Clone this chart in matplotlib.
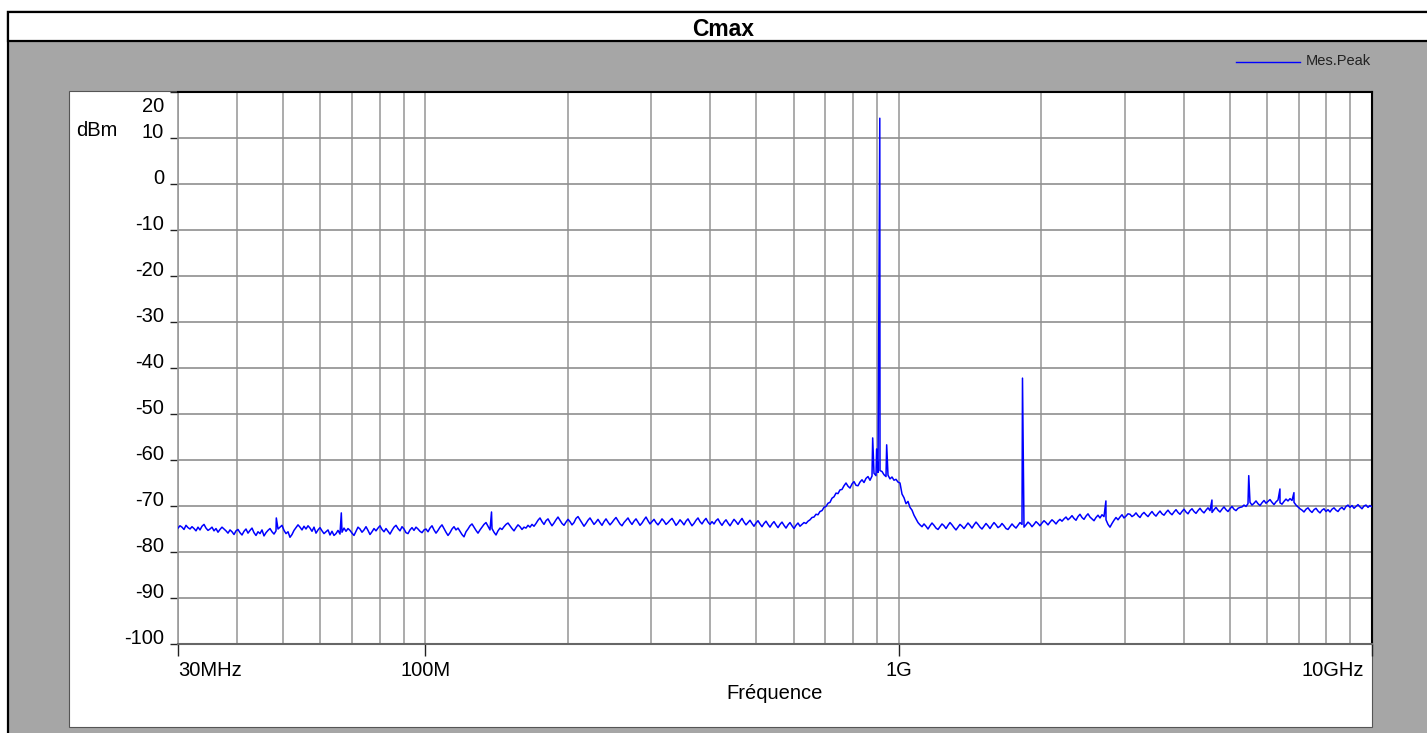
import numpy as np
import matplotlib
matplotlib.use('Agg')
import matplotlib.pyplot as plt
import matplotlib.transforms as mtransforms
from matplotlib.ticker import FixedLocator, NullFormatter
from matplotlib.patches import Rectangle

plt.rcParams['font.family'] = ['Liberation Sans', 'DejaVu Sans']

# --- data ---
title = 'Cmax'
series_name = 'Mes.Peak'
x_title = 'Fréquence'
y_unit = 'dBm'

y_ticks = [-100, -90, -80, -70, -60, -50, -40, -30, -20, -10, 0, 10, 20]
y_labels = ['-100', '-90', '-80', '-70', '-60', '-50', '-40', '-30', '-20', '-10', '0', '10', '20']
x_ticks = [30, 100, 1000, 10000]          # MHz
x_labels = ['30MHz', '100M', '1G', '10GHz']

# sweep levels in dBm, 30 MHz -> 10 GHz, log-spaced sweep points
band_30_100 = [
    -74.8, -74.3, -74.6, -75.1, -74.2, -74.7, -75.0, -74.5, -74.9, -75.4,
    -74.6, -75.2, -74.4, -74.0, -74.8, -75.3, -75.0, -74.6, -75.4, -74.9,
    -75.7, -75.1, -74.6, -75.0, -75.4, -75.9, -75.2, -75.6, -76.2, -75.4,
    -75.1, -75.8, -76.3, -75.5, -75.0, -75.9, -75.3, -74.8, -75.8, -76.4,
    -75.6, -76.0, -75.2, -76.5, -75.8, -75.3, -74.9, -75.6, -76.1, -75.4,
    -75.0, -74.6, -74.2, -75.3, -76.0, -75.6, -76.8, -76.2, -75.3, -74.7,
    -74.1, -74.6, -75.2, -74.4, -75.0, -74.3, -74.8, -75.5, -74.6, -75.9,
    -75.2, -74.7, -75.4, -76.0, -75.6, -75.2, -76.3, -75.5, -76.4, -76.0,
    -75.3, -76.1, -75.7, -74.8, -75.5, -74.9, -75.3, -75.9, -76.4, -75.5,
    -74.6, -75.0, -75.7, -75.2, -74.5, -75.3, -76.2, -75.6, -74.9, -75.4,
    -74.8, -74.3, -75.1, -75.6, -74.9, -75.5, -76.1, -75.3, -74.6, -74.2,
    -74.9, -75.4, -74.5, -75.0, -75.8, -76.0, -75.2, -74.7, -75.3, -74.6,
    -75.0, -75.5, -75.8, -75.2]
band_100_170 = [
    -75.0, -75.6, -74.8, -74.3, -75.2, -75.9, -75.3, -74.6, -74.1, -74.9,
    -75.7, -76.4, -75.8, -75.0, -74.5, -75.2, -74.8, -75.5, -76.2, -76.7,
    -75.6, -75.0, -74.3, -73.9, -74.6, -75.3, -75.9, -75.2, -74.6, -74.0,
    -73.6, -74.4, -75.2, -74.9, -75.7, -76.3, -75.4, -74.8, -75.1, -74.5,
    -74.0, -73.7, -74.3, -74.9, -75.4, -74.7, -74.1, -74.5, -75.1, -74.6,
    -74.8, -74.2, -74.6, -74.0, -74.4, -73.8]
band_170_630 = [
    -73.1, -72.6, -73.4, -74.0, -73.2, -72.8, -73.6, -74.3, -73.7, -73.0,
    -72.4, -73.1, -73.8, -74.2, -73.5, -72.9, -73.4, -74.1, -73.6, -72.7,
    -72.3, -73.0, -73.7, -74.4, -73.8, -73.1, -72.6, -73.3, -74.0, -73.5,
    -72.9, -73.6, -74.2, -73.4, -72.8, -73.5, -74.1, -73.6, -73.0, -72.5,
    -73.2, -73.9, -74.3, -73.6, -73.1, -72.6, -73.4, -74.0, -73.3, -72.8,
    -73.5, -74.2, -73.7, -73.0, -72.4, -73.2, -73.9, -73.4, -72.9, -73.6,
    -74.1, -73.5, -72.8, -73.3, -74.0, -73.6, -73.1, -72.7, -73.4, -74.2,
    -73.7, -73.0, -73.5, -74.1, -73.3, -72.8, -73.6, -74.3, -73.8, -73.1,
    -72.6, -73.4, -73.9, -73.2, -72.7, -73.5, -74.0, -73.4, -73.9, -73.2,
    -72.8, -73.6, -74.2, -73.5, -73.0, -73.7, -74.3, -73.6, -72.9, -73.4,
    -74.0, -73.3, -72.7, -73.5, -74.1, -73.6, -73.1, -73.8, -74.4, -73.7,
    -73.2, -73.9, -74.5, -73.8, -73.3, -74.0, -74.6, -73.9, -73.4, -74.1,
    -74.7, -74.0, -73.5, -74.2, -74.8, -74.1, -73.6, -74.3, -74.9, -74.2,
    -73.7, -74.4, -74.0, -73.6]
band_630_910 = [
    -73.8, -73.3, -73.0, -72.5, -72.4, -71.8, -71.9, -71.2, -71.0, -70.3,
    -70.1, -69.4, -69.2, -68.3, -68.0, -67.2, -67.3, -66.5, -66.4, -65.6,
    -65.0, -65.7, -66.1, -65.2, -64.7, -65.5, -65.6, -64.8, -64.3, -64.9,
    -64.0, -63.6, -64.4, -63.5, -62.9, -63.4, -62.7, -62.3]
band_910_1000 = [-62.5, -63.2, -63.6, -63.3, -64.1, -63.7, -64.4, -64.2, -64.8, -65.0]
band_1000_1100 = [-67.4, -68.2, -69.5, -69.0, -70.3, -70.9, -72.0, -72.8, -73.6, -74.1]
band_1100_2200 = [
    -74.5, -73.9, -74.4, -75.0, -74.3, -73.7, -74.2, -74.8, -75.1, -74.5,
    -73.9, -74.3, -74.9, -74.2, -73.6, -74.1, -74.7, -75.2, -74.6, -74.0,
    -74.4, -74.9, -74.3, -73.7, -74.2, -74.8, -74.1, -73.5, -74.0, -74.6,
    -75.0, -74.4, -73.8, -74.3, -74.9, -74.2, -73.6, -74.1, -74.7, -74.4,
    -73.8, -74.3, -74.9, -75.1, -74.5, -73.9, -74.4, -74.8, -74.2, -73.6,
    -74.0, -74.6, -74.1, -73.5, -73.9, -74.5, -74.0, -73.4, -73.8, -74.3,
    -73.7, -73.2, -73.6, -74.1, -73.5, -73.0, -73.4, -73.9, -73.3, -72.9]
band_2200_3100 = [
    -73.3, -72.8, -72.4, -73.0, -72.6, -72.1, -72.7, -73.1, -72.3, -71.8,
    -72.5, -72.9, -72.2, -71.7, -72.4, -72.8, -73.2, -72.5, -72.0, -72.6,
    -71.9, -72.3, -73.0, -74.0, -74.6, -73.8, -73.1, -72.5, -73.0, -72.4,
    -71.9, -72.6, -72.2, -71.7]
band_3100_5300 = [
    -71.8, -72.3, -72.0, -71.5, -72.1, -72.5, -71.8, -71.4, -71.9, -72.3,
    -71.7, -71.2, -71.8, -72.2, -71.6, -71.1, -71.7, -72.0, -71.4, -70.9,
    -71.5, -71.9, -71.3, -70.8, -71.4, -71.8, -71.2, -70.7, -71.3, -71.7,
    -71.0, -70.6, -71.2, -71.6, -71.0, -70.5, -71.1, -71.5, -70.9, -70.4,
    -71.0, -71.4, -70.8, -70.3, -70.9, -71.3, -70.7, -70.2, -70.8, -71.2,
    -70.6, -70.1, -70.7, -71.0, -70.5, -70.3]
band_5300_7000 = [
    -70.2, -69.8, -70.1, -69.5, -69.2, -69.8, -69.4, -68.9, -69.5, -69.9,
    -69.3, -68.8, -69.4, -69.0, -68.6, -69.2, -69.7, -69.1, -68.7, -69.3,
    -69.6, -69.0, -68.5, -68.9, -68.4, -68.8, -69.2, -69.8, -70.2, -70.6]
band_7000_10000 = [
    -70.9, -71.3, -70.7, -70.4, -71.0, -71.4, -70.8, -70.5, -71.1, -71.5,
    -70.9, -70.6, -71.2, -70.8, -71.3, -70.7, -70.4, -70.9, -71.2, -70.6,
    -70.3, -70.8, -70.1, -69.8, -70.3, -69.9, -70.5, -70.1, -69.7, -70.2,
    -70.6, -70.0, -69.8, -70.3, -69.9, -70.2]

# narrow carriers / spurs (MHz, dBm)
spike_mhz = [48.4, 66.4, 137.9, 881.0, 898.0, 912.0, 943.0, 1826.0, 2740.0, 4590.0, 5490.0, 6390.0, 6840.0]
spike_dbm = [-72.6, -71.5, -71.3, -55.2, -57.6, 14.3, -56.7, -42.2, -68.9, -68.7, -63.4, -66.3, -67.1]

sweep_dbm = (band_30_100 + band_100_170 + band_170_630 + band_630_910 + band_910_1000
             + band_1000_1100 + band_1100_2200 + band_2200_3100 + band_3100_5300
             + band_5300_7000 + band_7000_10000)
sweep_mhz = np.geomspace(30, 10000, len(sweep_dbm))

freq = np.concatenate([sweep_mhz, spike_mhz])
level = np.concatenate([sweep_dbm, spike_dbm])
order = np.argsort(freq)
freq, level = freq[order], level[order]

# --- figure ---
W, H = 1427, 733
fig = plt.figure(figsize=(W / 100, H / 100), dpi=100)

bg = fig.add_axes([0, 0, 1, 1])
bg.set_xlim(0, W)
bg.set_ylim(H, 0)
bg.axis('off')
bg.add_patch(Rectangle((8, 12), W, H, facecolor='#a6a6a6', edgecolor='black', lw=1.6))
bg.add_patch(Rectangle((8, 12), W, 29, facecolor='white', edgecolor='black', lw=1.6))
bg.add_patch(Rectangle((69, 91), 1372 - 69, 727 - 91, facecolor='white', edgecolor='#555555', lw=0.8))
bg.text(723.5, 35.5, title, ha='center', va='baseline', fontsize=16.5, fontweight='bold')

trace_color = '#0000ff'
bg.plot([1236, 1300], [61.5, 61.5], color=trace_color, lw=1.0)
bg.text(1306, 65, series_name, ha='left', va='baseline', fontsize=10.5, color='#222222')

ax = fig.add_axes([178 / W, 1 - 644 / H, 1194 / W, 552 / H])
ax.set_facecolor('white')
ax.plot(freq, level, color=trace_color, lw=1.1, zorder=3)

ax.set_xscale('log')
ax.set_xlim(30, 10000)
ax.set_ylim(-100, 20)

x_minor = [m * 10 ** k for k in (1, 2, 3) for m in range(2, 10) if 30 < m * 10 ** k < 10000]
ax.xaxis.set_major_locator(FixedLocator(x_ticks))
ax.xaxis.set_minor_locator(FixedLocator(x_minor))
ax.xaxis.set_major_formatter(NullFormatter())
ax.xaxis.set_minor_formatter(NullFormatter())
ax.yaxis.set_major_locator(FixedLocator(y_ticks))
ax.yaxis.set_major_formatter(NullFormatter())

ax.grid(which='both', axis='x', color='#ababab', lw=1.4)
ax.grid(which='major', axis='y', color='#8f8f8f', lw=1.2)
ax.set_axisbelow(True)

ax.tick_params(axis='x', which='major', direction='out', length=8.6, width=1, color='#222222')
ax.tick_params(axis='x', which='minor', length=0)
ax.tick_params(axis='y', direction='out', length=5.5, width=1, color='#222222')

ax.spines['top'].set_color('black')
ax.spines['top'].set_linewidth(1.5)
ax.spines['right'].set_color('black')
ax.spines['right'].set_linewidth(1.5)
ax.spines['left'].set_color('#999999')
ax.spines['left'].set_linewidth(1.2)
ax.spines['bottom'].set_color('#666666')
ax.spines['bottom'].set_linewidth(1.5)

for v, lab in zip(y_ticks, y_labels):
    dy = -19.7 if v == y_ticks[-1] else 0
    tf = mtransforms.offset_copy(ax.get_yaxis_transform(), fig=fig, x=-14, y=dy, units='dots')
    ax.text(0, v, lab, transform=tf, ha='right', va='baseline', fontsize=14.5)

x_ha = ['left', 'center', 'center', 'right']
x_dx = [0, 0, 0, -8]
for f, lab, ha, dx in zip(x_ticks, x_labels, x_ha, x_dx):
    tf = mtransforms.offset_copy(ax.get_xaxis_transform(), fig=fig, x=dx, y=-32, units='dots')
    ax.text(f, 0, lab, transform=tf, ha=ha, va='baseline', fontsize=14.5)

fig.text(775 / W, 1 - 699 / H, x_title, ha='center', va='baseline', fontsize=14.5)
fig.text(76 / W, 1 - 135.5 / H, y_unit, ha='left', va='baseline', fontsize=14.5)

fig.savefig('out.png', dpi=100)
